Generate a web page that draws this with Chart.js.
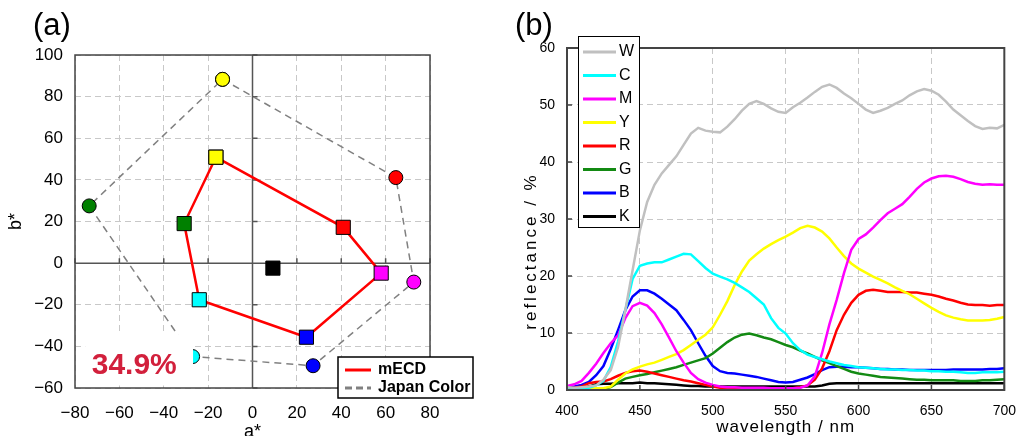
<!DOCTYPE html>
<html>
<head>
<meta charset="utf-8">
<script src="https://cdn.jsdelivr.net/npm/chart.js@4.4.0/dist/chart.umd.min.js"></script>
<style>
  html, body { margin: 0; padding: 0; background: #fff; }
  #wrap { position: relative; width: 1029px; height: 436px; overflow: hidden; }
  #cie { position: absolute; left: 0; top: 0; }
  #spec { position: absolute; left: 500px; top: 0; }
</style>
</head>
<body>
<div id="wrap">
  <canvas id="cie" width="500" height="436"></canvas>
  <canvas id="spec" width="529" height="436"></canvas>
</div>
<script>
// ---- (a) a*b* gamut ----
const gamutColors = ['#ffff00', '#ff0000', '#ff00ff', '#0000ff', '#00ffff', '#008000']; // Y R M B C G
const japanA = [-13.5, 64.6, 72.7, 27.3, -27.0, -73.6];
const japanB = [88.3, 41.1, -9.1, -49.3, -44.9, 27.5];
const ecdA = [-16.5, 40.9, 58.0, 24.3, -24.0, -30.8];
const ecdB = [50.9, 17.2, -4.8, -35.6, -17.6, 19.0];
const ecdBlack = [9.2, -2.4];
const coverageText = '34.9%';
const aTicks = [-80, -60, -40, -20, 0, 20, 40, 60, 80];
const bTicks = [-60, -40, -20, 0, 20, 40, 60, 80, 100];

// ---- (b) reflectance spectra ----
const wavelengths = [400, 405, 410, 415, 420, 425, 430, 435, 440, 445,
  450, 455, 460, 465, 470, 475, 480, 485, 490, 495,
  500, 505, 510, 515, 520, 525, 530, 535, 540, 545,
  550, 555, 560, 565, 570, 575, 580, 585, 590, 595,
  600, 605, 610, 615, 620, 625, 630, 635, 640, 645,
  650, 655, 660, 665, 670, 675, 680, 685, 690, 695, 700];
const specW = [0.5,0.4,0.5,0.6,0.8,1.8,3.5,7.5,14.0,21.0, 28.0,33.0,36.0,38.0,39.5,41.0,43.0,45.0,46.0,45.5,
  45.3,45.2,46.2,47.5,49.0,50.2,50.7,50.2,49.4,48.8, 48.6,49.6,50.4,51.3,52.3,53.2,53.6,53.0,52.0,51.2,
  50.2,49.2,48.6,49.0,49.5,50.2,50.8,51.7,52.4,52.8, 52.5,51.8,50.6,49.2,48.2,47.2,46.3,45.8,46.0,45.9, 46.5];
const specC = [0.3,0.2,0.3,0.4,0.8,1.6,4.0,8.5,14.0,19.5, 21.8,22.2,22.4,22.4,22.9,23.4,23.9,23.8,22.6,21.4,
  20.4,19.9,19.4,18.8,18.0,17.2,16.1,15.0,12.6,10.9, 9.9,8.2,7.0,6.2,5.8,5.4,5.0,4.7,4.4,4.2,
  4.0,3.9,3.8,3.7,3.6,3.6,3.5,3.5,3.4,3.4, 3.3,3.3,3.2,3.2,3.1,3.0,3.0,3.1,3.1,3.1, 3.2];
const specM = [0.7,1.0,1.6,3.0,4.6,6.5,8.2,9.6,12.6,14.7, 15.3,14.8,13.5,11.5,9.2,6.8,4.8,3.0,1.9,1.3,
  0.9,0.6,0.5,0.5,0.4,0.4,0.4,0.4,0.3,0.3, 0.3,0.3,0.4,0.8,2.4,6.5,11.5,15.8,20.5,24.6,
  26.5,27.3,28.5,29.8,31.0,31.8,32.6,33.9,35.3,36.4, 37.1,37.5,37.6,37.4,37.0,36.5,36.2,36.0,36.1,36.0, 36.0];
const specY = [0.2,0.1,0.2,0.2,0.3,0.3,0.6,1.8,2.9,3.6, 4.1,4.5,4.8,5.3,5.8,6.3,7.0,7.9,8.8,9.7,
  11.0,13.2,15.6,18.4,20.8,22.7,23.8,24.8,25.6,26.3, 26.9,27.6,28.4,28.8,28.5,27.8,26.6,25.0,23.5,22.2,
  21.3,20.6,19.9,19.3,18.7,18.0,17.4,16.8,16.0,15.2, 14.4,13.7,13.1,12.7,12.4,12.2,12.2,12.2,12.3,12.5, 12.8];
const specR = [0.3,0.4,0.6,1.2,1.4,1.5,1.9,2.5,3.0,3.3, 3.4,3.2,2.9,2.6,2.3,2.0,1.7,1.5,1.2,0.9,
  0.6,0.4,0.3,0.3,0.3,0.3,0.3,0.3,0.3,0.3, 0.3,0.3,0.5,0.8,1.8,3.8,6.8,10.5,13.2,15.3,
  16.7,17.4,17.6,17.4,17.2,17.2,17.2,17.1,17.1,16.9, 16.7,16.4,16.0,15.7,15.3,15.0,14.9,14.9,14.8,14.9, 14.9];
const specG = [0.1,0.0,0.1,0.1,0.1,0.2,0.5,1.3,2.0,2.3, 2.6,2.8,3.1,3.4,3.7,4.0,4.4,4.8,5.2,5.6,
  6.4,7.4,8.4,9.2,9.7,9.9,9.6,9.2,8.9,8.4, 7.9,7.5,6.9,6.4,5.8,5.2,4.7,4.2,3.7,3.2,
  2.9,2.7,2.5,2.3,2.2,2.1,2.0,1.9,1.8,1.8, 1.7,1.7,1.7,1.7,1.6,1.6,1.6,1.7,1.7,1.8, 1.9];
const specB = [0.5,0.6,0.9,1.4,2.6,4.2,7.2,10.5,14.0,16.4, 17.5,17.5,16.9,16.0,15.0,14.0,12.3,10.5,8.2,6.0,
  4.2,3.3,3.0,2.9,2.7,2.5,2.3,2.0,1.7,1.4, 1.3,1.4,1.8,2.2,2.8,3.5,4.0,4.1,4.1,4.0,
  4.0,3.9,3.8,3.7,3.7,3.6,3.6,3.5,3.5,3.5, 3.5,3.5,3.5,3.6,3.6,3.6,3.6,3.6,3.7,3.7, 3.8];
const specK = [0.2,0.3,0.4,0.6,1.0,1.1,1.1,1.2,1.2,1.2, 1.3,1.2,1.2,1.1,1.0,0.9,0.8,0.7,0.7,0.6,
  0.6,0.6,0.6,0.6,0.6,0.6,0.6,0.6,0.6,0.6, 0.6,0.6,0.6,0.6,0.6,0.8,1.1,1.2,1.2,1.2,
  1.2,1.2,1.2,1.2,1.2,1.2,1.2,1.2,1.2,1.2, 1.2,1.2,1.2,1.2,1.2,1.2,1.2,1.2,1.2,1.2, 1.2];
const specNames = ['W', 'C', 'M', 'Y', 'R', 'G', 'B', 'K'];
const specSeries = [specW, specC, specM, specY, specR, specG, specB, specK];
const specColors = ['#c0c0c0', '#00ffff', '#ff00ff', '#ffff00', '#ff0000', '#138a13', '#0000ff', '#000000'];
const wlTicks = [400, 450, 500, 550, 600, 650, 700];
const reflTicks = [0, 10, 20, 30, 40, 50, 60];

const FONT = '"Liberation Sans", Arial, sans-serif';
const minus = v => (v < 0 ? '\u2212' + Math.abs(v) : String(v));

// close a polygon by repeating the first vertex
function ring(xs, ys) {
  const pts = xs.map((x, i) => ({ x: x, y: ys[i] }));
  pts.push(pts[0]);
  return pts;
}
const ringColors = gamutColors.concat([gamutColors[0]]);

const cieDecor = {
  id: 'cieDecor',
  beforeDatasetsDraw(chart) {
    const { ctx, chartArea: a, scales: { x, y } } = chart;
    const x0 = x.getPixelForValue(0), y0 = y.getPixelForValue(0);
    ctx.save();
    ctx.strokeStyle = '#555';
    ctx.lineWidth = 1.5;
    ctx.beginPath();
    ctx.moveTo(x0, a.top); ctx.lineTo(x0, a.bottom);
    ctx.moveTo(a.left, y0); ctx.lineTo(a.right, y0);
    aTicks.forEach(v => { const p = x.getPixelForValue(v); ctx.moveTo(p, y0); ctx.lineTo(p, y0 - 5); });
    bTicks.forEach(v => { const p = y.getPixelForValue(v); ctx.moveTo(x0, p); ctx.lineTo(x0 + 5, p); });
    ctx.stroke();
    ctx.restore();
  },
  afterDatasetsDraw(chart) {
    const { ctx, chartArea: a, scales: { x, y } } = chart;
    ctx.save();
    // white box behind the coverage label
    const l = x.getPixelForValue(-75.4), r = x.getPixelForValue(-26.8);
    const t = y.getPixelForValue(-34.3), b = y.getPixelForValue(-58.8);
    ctx.fillStyle = '#fff';
    ctx.fillRect(l, t, r - l, b - t);
    ctx.fillStyle = '#d2203c';
    ctx.font = 'bold 30px ' + FONT;
    ctx.textAlign = 'center';
    ctx.textBaseline = 'alphabetic';
    ctx.fillText(coverageText, x.getPixelForValue(-53.3), y.getPixelForValue(-53.3));
    // frame
    ctx.strokeStyle = '#444';
    ctx.lineWidth = 1.5;
    ctx.strokeRect(a.left, a.top, a.width, a.height);
    ctx.restore();
  },
  afterDraw(chart) {
    const { ctx, chartArea: a } = chart;
    ctx.save();
    // legend
    const lx = a.right - 92, ly = a.bottom - 31;
    ctx.fillStyle = '#fff';
    ctx.fillRect(lx, ly, 135, 41);
    ctx.strokeStyle = '#000';
    ctx.lineWidth = 1.5;
    ctx.strokeRect(lx, ly, 135, 41);
    ctx.lineWidth = 3;
    ctx.strokeStyle = '#ff0000';
    ctx.beginPath(); ctx.moveTo(lx + 7, ly + 13); ctx.lineTo(lx + 33, ly + 13); ctx.stroke();
    ctx.strokeStyle = '#808080';
    ctx.setLineDash([7, 4]);
    ctx.beginPath(); ctx.moveTo(lx + 7, ly + 31); ctx.lineTo(lx + 33, ly + 31); ctx.stroke();
    ctx.setLineDash([]);
    ctx.fillStyle = '#000';
    ctx.font = 'bold 16px ' + FONT;
    ctx.textBaseline = 'middle';
    ctx.fillText('mECD', lx + 40, ly + 13);
    ctx.fillText('Japan Color', lx + 40, ly + 31);
    // panel label and axis titles
    ctx.font = '31px ' + FONT;
    ctx.textBaseline = 'alphabetic';
    ctx.fillText('(a)', 33, 35);
    ctx.font = '18px ' + FONT;
    ctx.textAlign = 'center';
    ctx.textBaseline = 'top';
    ctx.fillText('a*', (a.left + a.right) / 2, 423);
    ctx.translate(16, (a.top + a.bottom) / 2);
    ctx.rotate(-Math.PI / 2);
    ctx.textBaseline = 'middle';
    ctx.fillText('b*', 0, 0);
    ctx.restore();
  }
};

new Chart(document.getElementById('cie'), {
  type: 'scatter',
  data: {
    datasets: [
      {
        label: 'K', data: [{ x: ecdBlack[0], y: ecdBlack[1] }],
        pointStyle: 'rect', pointRadius: 10, backgroundColor: '#000', borderColor: '#000', borderWidth: 1
      },
      {
        label: 'mECD', data: ring(ecdA, ecdB), showLine: true,
        borderColor: '#ff0000', borderWidth: 2.5,
        pointStyle: 'rect', pointRadius: 10, pointBackgroundColor: ringColors,
        pointBorderColor: '#000', pointBorderWidth: 1
      },
      {
        label: 'Japan Color', data: ring(japanA, japanB), showLine: true,
        borderColor: '#808080', borderWidth: 1.5, borderDash: [7, 5],
        pointStyle: 'circle', pointRadius: 7, pointBackgroundColor: ringColors,
        pointBorderColor: '#000', pointBorderWidth: 1
      }
    ]
  },
  options: {
    responsive: false,
    animation: false,
    events: [],
    layout: { padding: { top: 55, right: 70, left: 0, bottom: 0 } },
    plugins: { legend: { display: false }, tooltip: { enabled: false } },
    scales: {
      x: {
        type: 'linear', min: aTicks[0], max: aTicks[aTicks.length - 1],
        afterFit: s => { s.height = 48; },
        ticks: { stepSize: 20, color: '#000', font: { size: 17, family: FONT }, padding: 15, callback: minus },
        grid: { color: '#c8c8c8', lineWidth: 1, drawTicks: false },
        border: { display: false, dash: [6, 4] }
      },
      y: {
        type: 'linear', min: bTicks[0], max: bTicks[bTicks.length - 1],
        afterFit: s => { s.width = 75; },
        ticks: { stepSize: 20, color: '#000', font: { size: 17, family: FONT }, padding: 12, callback: minus },
        grid: { color: '#c8c8c8', lineWidth: 1, drawTicks: false },
        border: { display: false, dash: [6, 4] }
      }
    }
  },
  plugins: [cieDecor]
});

const specDecor = {
  id: 'specDecor',
  afterDatasetsDraw(chart) {
    const { ctx, chartArea: a, scales: { x, y } } = chart;
    ctx.save();
    ctx.strokeStyle = '#444';
    ctx.lineWidth = 2;
    ctx.strokeRect(a.left, a.top, a.width, a.height);
    ctx.lineWidth = 1.5;
    ctx.beginPath();
    wlTicks.forEach(v => { const p = x.getPixelForValue(v); ctx.moveTo(p, a.bottom); ctx.lineTo(p, a.bottom - 5); });
    reflTicks.forEach(v => { const p = y.getPixelForValue(v); ctx.moveTo(a.left, p); ctx.lineTo(a.left + 5, p); });
    ctx.stroke();
    ctx.restore();
  },
  afterDraw(chart) {
    const { ctx, chartArea: a } = chart;
    ctx.save();
    // legend box
    const lx = a.left + 11, ly = a.top - 12;
    ctx.fillStyle = '#fff';
    ctx.fillRect(lx, ly, 61, 191);
    ctx.strokeStyle = '#000';
    ctx.lineWidth = 1;
    ctx.strokeRect(lx + 0.5, ly + 0.5, 61, 191);
    ctx.font = '16px ' + FONT;
    ctx.textBaseline = 'middle';
    specNames.forEach((n, i) => {
      const yy = ly + 16 + i * 23.5;
      ctx.strokeStyle = specColors[i];
      ctx.lineWidth = 3;
      ctx.beginPath(); ctx.moveTo(lx + 5, yy); ctx.lineTo(lx + 38, yy); ctx.stroke();
      ctx.fillStyle = '#000';
      ctx.fillText(n, lx + 41, yy);
    });
    // panel label and axis titles
    ctx.font = '31px ' + FONT;
    ctx.textBaseline = 'alphabetic';
    ctx.fillText('(b)', 15, 35);
    ctx.font = '17px ' + FONT;
    ctx.textAlign = 'center';
    ctx.textBaseline = 'middle';
    ctx.letterSpacing = '1px';
    ctx.fillText('wavelength / nm', (a.left + a.right) / 2, 427);
    ctx.letterSpacing = '3px';
    ctx.translate(31, 251);
    ctx.rotate(-Math.PI / 2);
    ctx.fillText('reflectance / %', 0, 0);
    ctx.restore();
  }
};

new Chart(document.getElementById('spec'), {
  type: 'line',
  data: {
    datasets: specSeries.map((s, i) => ({
      label: specNames[i],
      data: s.map((v, j) => ({ x: wavelengths[j], y: v })),
      borderColor: specColors[i],
      borderWidth: 2.5,
      pointRadius: 0,
      tension: 0
    }))
  },
  options: {
    responsive: false,
    animation: false,
    events: [],
    layout: { padding: { top: 48, right: 16, left: 0, bottom: 0 } },
    plugins: { legend: { display: false }, tooltip: { enabled: false } },
    scales: {
      x: {
        type: 'linear', min: wlTicks[0], max: wlTicks[wlTicks.length - 1],
        afterFit: s => { s.height = 46; },
        ticks: { stepSize: 50, color: '#000', font: { size: 14, family: FONT }, padding: 13 },
        grid: { color: '#c8c8c8', lineWidth: 1, drawTicks: false },
        border: { display: false, dash: [6, 4] }
      },
      y: {
        type: 'linear', min: reflTicks[0], max: reflTicks[reflTicks.length - 1],
        afterFit: s => { s.width = 67; },
        ticks: { stepSize: 10, color: '#000', font: { size: 14, family: FONT }, padding: 12 },
        grid: { color: '#c8c8c8', lineWidth: 1, drawTicks: false },
        border: { display: false, dash: [6, 4] }
      }
    }
  },
  plugins: [specDecor]
});
</script>
</body>
</html>
